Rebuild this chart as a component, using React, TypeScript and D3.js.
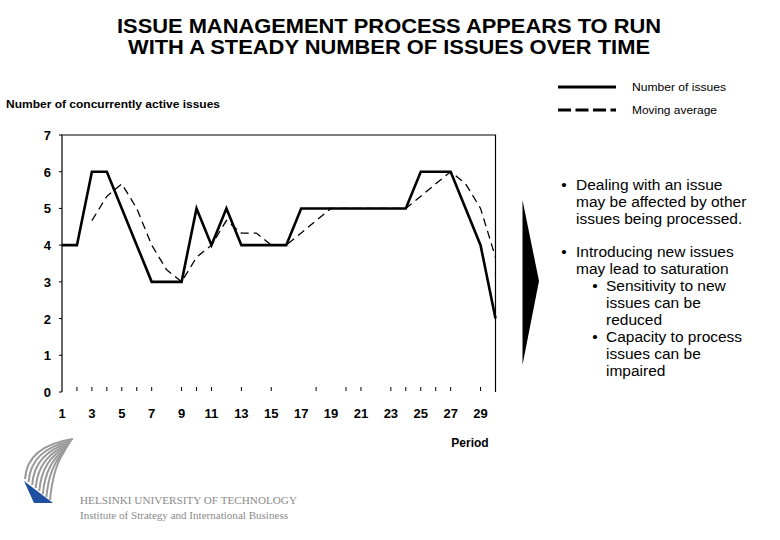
import React, { useEffect, useRef } from 'react';
import * as d3 from 'd3';

// chart data
const periods = [1, 2, 3, 4, 5, 6, 7, 8, 9, 10, 11, 12, 13, 14, 15, 16, 17, 18, 19, 20, 21, 22, 23, 24, 25, 26, 27, 28, 29, 30];
const issueCounts = [4, 4, 6, 6, 5, 4, 3, 3, 3, 5, 4, 5, 4, 4, 4, 4, 5, 5, 5, 5, 5, 5, 5, 5, 6, 6, 6, 5, 4, 2];
const movingAvgPeriods = [3, 4, 5, 6, 7, 8, 9, 10, 11, 12, 13, 14, 15, 16, 17, 18, 19, 20, 21, 22, 23, 24, 25, 26, 27, 28, 29, 30];
const movingAvg = [4.67, 5.33, 5.67, 5, 4, 3.33, 3, 3.67, 4, 4.67, 4.33, 4.33, 4, 4, 4.33, 4.67, 5, 5, 5, 5, 5, 5, 5.33, 5.67, 6, 5.67, 5, 3.67];
const xTickLabels = [1, 3, 5, 7, 9, 11, 13, 15, 17, 19, 21, 23, 25, 27, 29];
const xTickMarks = [2, 3, 4, 5, 6, 7, 9, 10, 11, 13, 15, 18, 20, 21, 23, 24, 25, 26, 27, 29];
const yTicks = [0, 1, 2, 3, 4, 5, 6, 7];

const titleLines = ['ISSUE MANAGEMENT PROCESS APPEARS TO RUN', 'WITH A STEADY NUMBER OF ISSUES OVER TIME'];
const titleWidths = [544, 522];
const legendLabels = ['Number of issues', 'Moving average'];
const legendWidths = [94, 85];
const bullets = [
  { level: 0, lines: ['Dealing with an issue', 'may be affected by other', 'issues being processed.'] },
  { level: 0, lines: ['Introducing new issues', 'may lead to saturation'] },
  { level: 1, lines: ['Sensitivity to new', 'issues can be', 'reduced'] },
  { level: 1, lines: ['Capacity to process', 'issues can be', 'impaired'] },
];

const FONT = '"Liberation Sans", Arial, sans-serif';
const SERIF = '"Liberation Serif", "Times New Roman", serif';

const App: React.FC = () => {
  const svgRef = useRef<SVGSVGElement | null>(null);

  useEffect(() => {
    if (!svgRef.current) return;
    const width = 780;
    const height = 540;
    const svg = d3.select(svgRef.current).attr('width', width).attr('height', height);
    svg.selectAll('*').remove();
    svg.append('rect').attr('width', width).attr('height', height).attr('fill', 'white');

    // title
    svg.append('g').selectAll('text')
      .data(titleLines)
      .enter().append('text')
        .attr('x', 389)
        .attr('y', (d, i) => 33 + i * 21)
        .attr('text-anchor', 'middle')
        .attr('textLength', (d, i) => titleWidths[i])
        .attr('lengthAdjust', 'spacingAndGlyphs')
        .style('font-family', FONT)
        .style('font-weight', 'bold')
        .style('font-size', '21px')
        .style('fill', '#000')
        .text(d => d);

    const x = d3.scaleLinear().domain([1, 30]).range([62, 495.5]);
    const y = d3.scaleLinear().domain([0, 7]).range([392, 135]);

    const plot = svg.append('g');

    // frame: top, left and right, no bottom line
    plot.append('path')
      .attr('d', `M${x(1)},${y(0)}V${y(7)}H${x(30)}V${y(0)}`)
      .attr('fill', 'none')
      .attr('stroke', '#000')
      .attr('stroke-width', 1.2);

    plot.selectAll('.xtick')
      .data(xTickMarks)
      .enter().append('line')
        .attr('class', 'xtick')
        .attr('x1', d => x(d)).attr('x2', d => x(d))
        .attr('y1', y(0) - 5).attr('y2', y(0) - 1)
        .attr('stroke', '#000')
        .attr('stroke-width', 1);

    plot.selectAll('.ytick')
      .data(yTicks)
      .enter().append('line')
        .attr('class', 'ytick')
        .attr('x1', x(1) - 3).attr('x2', x(1))
        .attr('y1', d => y(d)).attr('y2', d => y(d))
        .attr('stroke', '#000')
        .attr('stroke-width', 1);

    plot.selectAll('.ylabel')
      .data(yTicks)
      .enter().append('text')
        .attr('class', 'ylabel')
        .attr('x', 51)
        .attr('y', d => y(d) + 5)
        .attr('text-anchor', 'end')
        .style('font-family', FONT)
        .style('font-weight', 'bold')
        .style('font-size', '13px')
        .text(d => d);

    plot.selectAll('.xlabel')
      .data(xTickLabels)
      .enter().append('text')
        .attr('class', 'xlabel')
        .attr('x', d => x(d))
        .attr('y', 418)
        .attr('text-anchor', 'middle')
        .style('font-family', FONT)
        .style('font-weight', 'bold')
        .style('font-size', '13px')
        .text(d => d);

    // lines
    const line = d3.line<[number, number]>().x(d => x(d[0])).y(d => y(d[1]));
    plot.append('path')
      .attr('d', line(movingAvgPeriods.map((p, i) => [p, movingAvg[i]]))!)
      .attr('fill', 'none')
      .attr('stroke', '#000')
      .attr('stroke-width', 1.3)
      .attr('stroke-dasharray', '8,5');
    plot.append('path')
      .attr('d', line(periods.map((p, i) => [p, issueCounts[i]]))!)
      .attr('fill', 'none')
      .attr('stroke', '#000')
      .attr('stroke-width', 2.6)
      .attr('stroke-linejoin', 'miter');

    // axis titles
    svg.append('text')
      .attr('x', 6).attr('y', 108)
      .attr('textLength', 214).attr('lengthAdjust', 'spacingAndGlyphs')
      .style('font-family', FONT).style('font-weight', 'bold').style('font-size', '11.5px')
      .text('Number of concurrently active issues');
    svg.append('text')
      .attr('x', 470).attr('y', 447)
      .attr('text-anchor', 'middle')
      .style('font-family', FONT).style('font-weight', 'bold').style('font-size', '12px')
      .text('Period');

    // legend
    const legend = svg.append('g');
    legend.selectAll('line')
      .data(legendLabels)
      .enter().append('line')
        .attr('x1', 558).attr('x2', 616)
        .attr('y1', (d, i) => 87 + i * 23).attr('y2', (d, i) => 87 + i * 23)
        .attr('stroke', '#000')
        .attr('stroke-width', 2.8)
        .attr('stroke-dasharray', (d, i) => (i === 1 ? '13,4.5' : null));
    legend.selectAll('text')
      .data(legendLabels)
      .enter().append('text')
        .attr('x', 632)
        .attr('y', (d, i) => 91 + i * 23)
        .attr('textLength', (d, i) => legendWidths[i])
        .attr('lengthAdjust', 'spacingAndGlyphs')
        .style('font-family', FONT).style('font-size', '11.5px')
        .text(d => d);

    // arrow
    svg.append('path')
      .attr('d', 'M522.5,200L539,281L522.5,365Z')
      .attr('fill', '#000');

    // bullet text
    const bulletG = svg.append('g').style('font-family', FONT).style('font-size', '15.5px');
    let yy = 190;
    bullets.forEach((b, bi) => {
      if (bi === 1) yy += 16;
      const bx = b.level === 0 ? 564 : 595;
      const tx = b.level === 0 ? 576 : 606;
      bulletG.append('text').attr('x', bx).attr('y', yy).attr('text-anchor', 'middle').text('•');
      b.lines.forEach(l => {
        bulletG.append('text').attr('x', tx).attr('y', yy).text(l);
        yy += 17;
      });
    });

    // logo: grey wing stripes over a blue wedge
    const logo = svg.append('g');
    const lerp = (a: [number, number], b: [number, number], t: number): [number, number] =>
      [a[0] + (b[0] - a[0]) * t, a[1] + (b[1] - a[1]) * t];
    d3.range(8).forEach(i => {
      const t = i / 7;
      const s = lerp([25, 479], [50, 500], t);
      const c = lerp([27, 446], [53, 468], t);
      const e = lerp([73, 439], [64, 452], t);
      const p = d3.path();
      p.moveTo(s[0], s[1]);
      p.quadraticCurveTo(c[0], c[1], e[0], e[1]);
      logo.append('path')
        .attr('d', p.toString())
        .attr('fill', 'none')
        .attr('stroke', '#9a9a9a')
        .attr('stroke-width', 2);
    });
    logo.append('path')
      .attr('d', 'M24,481L53,503L34,503Z')
      .attr('fill', '#1f4fa0');

    svg.append('text')
      .attr('x', 80).attr('y', 504)
      .attr('textLength', 217).attr('lengthAdjust', 'spacingAndGlyphs')
      .style('font-family', SERIF).style('font-size', '11px').style('fill', '#8a8a8a')
      .text('HELSINKI UNIVERSITY OF TECHNOLOGY');
    svg.append('text')
      .attr('x', 80).attr('y', 519)
      .attr('textLength', 208).attr('lengthAdjust', 'spacingAndGlyphs')
      .style('font-family', SERIF).style('font-size', '11px').style('fill', '#8a8a8a')
      .text('Institute of Strategy and International Business');
  }, []);

  return (
    <svg ref={svgRef} style={{ position: 'absolute', left: 0, top: 0 }}></svg>
  );
};

export default App;
